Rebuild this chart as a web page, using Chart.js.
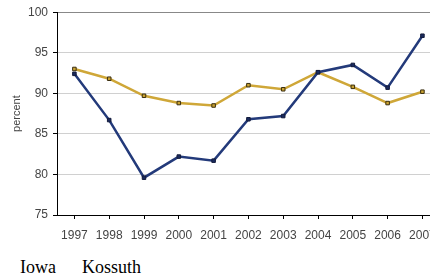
<!DOCTYPE html>
<html>
<head>
<meta charset="utf-8">
<script src="https://cdn.jsdelivr.net/npm/chart.js@4/dist/chart.umd.min.js"></script>
<style>
  html, body { margin: 0; padding: 0; background: #fff; overflow: hidden; width: 430px; height: 279px; }
  #wrap { position: absolute; left: 0; top: 0; width: 445px; height: 252px; }
  #legend { position: absolute; left: 20px; top: 257px; font-family: "Liberation Serif", "Times New Roman", serif; font-size: 18px; color: #000; line-height: 20px; }
  #legend span { position: absolute; top: 0; white-space: nowrap; }
</style>
</head>
<body>
<div id="wrap"><canvas id="percentChart" width="445" height="252"></canvas></div>
<div id="legend"><span style="left:0">Iowa</span><span style="left:62px">Kossuth</span></div>
<script>
// values
const years = ['1997', '1998', '1999', '2000', '2001', '2002', '2003', '2004', '2005', '2006', '2007'];
const iowa = [93.0, 91.8, 89.7, 88.8, 88.5, 91.0, 90.5, 92.6, 90.8, 88.8, 90.2];
const kossuth = [92.4, 86.7, 79.6, 82.2, 81.7, 86.8, 87.2, 92.6, 93.5, 90.7, 97.1];
const seriesNames = ['Iowa', 'Kossuth'];

const ctx = document.getElementById('percentChart').getContext('2d');
const percentChart = new Chart(ctx, {
    type: 'line',
    data: {
        labels: years,
        datasets: [{
            label: seriesNames[1],
            data: kossuth,
            borderColor: '#233a7a',
            backgroundColor: '#1a2a5e',
            pointBorderColor: '#141c3c',
            borderWidth: 2.5,
            pointStyle: 'rect',
            pointRadius: 2.5,
            pointBorderWidth: 1,
            tension: 0
        }, {
            label: seriesNames[0],
            data: iowa,
            borderColor: '#cfa738',
            backgroundColor: '#c9a232',
            pointBorderColor: '#3a2e10',
            borderWidth: 2.5,
            pointStyle: 'rect',
            pointRadius: 2.5,
            pointBorderWidth: 1,
            tension: 0
        }]
    },
    options: {
        responsive: false,
        animation: false,
        layout: { padding: { top: 8, right: 4, left: 0, bottom: 0 } },
        plugins: { legend: { display: false }, tooltip: { enabled: false } },
        scales: {
            x: {
                offset: true,
                grid: { offset: false, drawOnChartArea: false, drawTicks: true, tickLength: 4, tickColor: '#000' },
                border: { color: '#000', width: 1 },
                ticks: { color: '#444', font: { family: 'Liberation Sans, Arial', size: 12 }, maxRotation: 0, autoSkip: false, padding: 9 },
                afterFit: function (scale) { scale.height = 37; }
            },
            y: {
                min: 75,
                max: 100,
                ticks: { stepSize: 5, color: '#444', font: { family: 'Liberation Sans, Arial', size: 12 }, padding: 5 },
                grid: {
                    color: function (c) { return c.tick && c.tick.value === 100 ? '#888' : '#d0d0d0'; },
                    tickColor: '#000',
                    tickLength: 4
                },
                border: { color: '#000', width: 1 },
                title: { display: true, text: 'percent', color: '#444', font: { family: 'Liberation Sans, Arial', size: 11 }, padding: { top: 10, bottom: 0 } },
                afterFit: function (scale) { scale.width = 57; }
            }
        }
    }
});
</script>
</body>
</html>
